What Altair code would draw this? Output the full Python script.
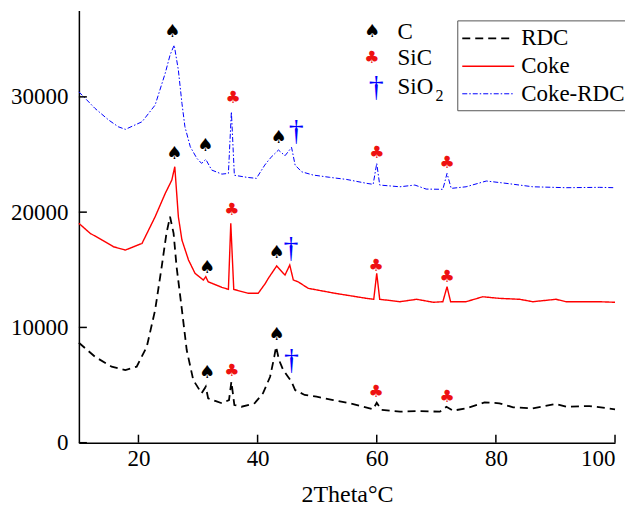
import altair as alt
import pandas as pd

# ---- data ----
rdc_x = [10, 12.7, 15.5, 17.8, 19.7, 21.4, 22.8, 23.9, 24.7, 25.3, 25.9, 26.4, 27.3, 28.1, 29.2, 30.6,
         31.3, 31.7, 33.0, 34.0, 35.2, 35.6, 36.1, 37.3, 39.5, 40.9, 42.1, 42.8, 43.1, 43.6, 44.3, 45.1,
         45.7, 46.3, 47.9, 49.9, 52.7, 55.5, 59.4, 60.0, 60.8, 63.9, 66.7, 70.6, 71.7, 72.8, 75.0, 78.1,
         80.6, 82.9, 86.2, 90.1, 91.8, 95.7, 100]
rdc_y = [8670, 7460, 6590, 6300, 6590, 8330, 11510, 15260, 18160, 19600, 18160, 15260, 11510, 8040, 5440, 4280,
         4860, 3850, 3600, 3420, 3700, 5290, 3270, 3120, 3420, 4280, 5720, 7460, 8330, 7170, 6300, 5720,
         5290, 4570, 4140, 3990, 3700, 3420, 2900, 3470, 2840, 2690, 2750, 2690, 3120, 2780, 2980, 3500,
         3420, 3070, 2980, 3360, 3120, 3180, 2900]

coke_x = [10, 11.9, 13.9, 15.8, 17.8, 20.6, 22.8, 24.5, 25.6, 26.1, 26.7, 27.3, 28.4, 29.5, 30.9, 31.3, 31.7, 34.0,
          35.1, 35.5, 36.0, 38.4, 40.1, 41.3, 41.8, 43.2, 44.6, 45.4, 46.0, 46.8, 48.5, 53.0, 58.3, 59.5,
          60.0, 60.5, 63.9, 66.7, 69.5, 71.1, 71.8, 72.4, 75.0, 77.8, 80.6, 84.0, 86.2, 90.1, 91.8, 97.4, 100]
coke_y = [19030, 18160, 17580, 17000, 16710, 17290, 19600, 21630, 22780, 23940, 19600, 17580, 15850, 14690, 14110, 14400, 13960, 13480,
          13300, 19030, 13300, 12960, 12960, 13820, 14260, 15330, 14540, 15410, 14110, 13960, 13390, 12960, 12520, 12440,
          14690, 12440, 12230, 12440, 12180, 12230, 13530, 12230, 12230, 12660, 12520, 12440, 12230, 12440, 12230, 12230, 12180]

mix_x = [10, 12.7, 15.0, 16.6, 17.8, 20.6, 22.8, 24.5, 25.3, 26.0, 26.7, 27.3, 27.8, 28.7, 29.8, 30.6, 31.3, 32.3,
         34.0, 35.1, 35.6, 36.1, 38.2, 39.8, 41.2, 42.1, 43.5, 44.6, 45.7, 46.3, 47.4, 49.3, 52.1, 54.9,
         58.3, 59.4, 60.0, 60.5, 63.9, 66.4, 68.3, 71.1, 71.8, 72.5, 75.0, 78.4, 81.7, 86.2, 91.8, 97.4, 100]
mix_y = [30440, 29000, 27990, 27410, 27180, 27840, 29290, 32060, 33620, 34490, 32320, 29440, 27410, 25670, 24670, 24230, 24580, 23650,
         23300, 23360, 28710, 23200, 23020, 22930, 24080, 24670, 25390, 24890, 25620, 24080, 23500, 23220, 23020, 22840,
         22500, 22410, 24230, 22350, 22200, 22350, 22000, 21980, 23360, 22060, 22200, 22700, 22500, 22200, 22120, 22150, 22120]

series_names = ["RDC", "Coke", "Coke-RDC"]
series_colors = ["black", "red", "blue"]
series_dash = [[8, 5], [1, 0], [5, 2, 1.5, 2]]
series_width = [1.8, 1.0, 1.5]

# peak markers (last entry of each list is the phase-key symbol)
spade_x = [25.7, 31.2, 43.5, 26.0, 31.5, 43.2, 31.5, 43.2, 59.2]
spade_y = [35590, 25730, 26450, 25040, 15120, 16430, 6020, 9340, 35620]
club_x = [35.9, 60.0, 71.8, 35.7, 59.9, 71.8, 35.7, 59.9, 71.8, 59.2]
club_y = [29870, 25150, 24280, 20180, 15330, 14340, 6240, 4420, 3990, 33360]
dagger_x = [46.5, 45.6, 45.7, 59.9]
dagger_y = [27030, 16860, 7170, 30850]

# phase key labels
key_y = [35620, 33360, 30850]
key_label = ["C", "SiC", "SiO"]
key_label_x = [63.5, 63.5, 63.5]

x_ticks = [20, 40, 60, 80, 100]
y_ticks = [0, 10000, 20000, 30000]

W, H = 537, 433
FONT = "Liberation Serif"

rows = []
for name, xs_, ys_ in [("RDC", rdc_x, rdc_y), ("Coke", coke_x, coke_y), ("Coke-RDC", mix_x, mix_y)]:
    for a, b in zip(xs_, ys_):
        rows.append({"x": a, "y": b, "s": name})
df = pd.DataFrame(rows)

xs = alt.Scale(domain=[10, 100], nice=False)
ys = alt.Scale(domain=[0, 37500], nice=False)

lines = alt.Chart(df).mark_line().encode(
    x=alt.X("x:Q", scale=xs,
            axis=alt.Axis(values=x_ticks, title="2Theta\u00b0C", titleFontSize=24, titleFont=FONT,
                          titleFontWeight="normal", titlePadding=12)),
    y=alt.Y("y:Q", scale=ys,
            axis=alt.Axis(values=y_ticks, title=None, format="d", labelPadding=11)),
    color=alt.Color("s:N", scale=alt.Scale(domain=series_names, range=series_colors),
                    legend=alt.Legend(title=None, orient="none", legendX=379, legendY=10,
                                      symbolType="M-2,0H2", symbolSize=676,
                                      labelFont=FONT, labelFontSize=23, labelColor="black",
                                      strokeColor="#555", padding=4, symbolOffset=13,
                                      labelOffset=19, rowPadding=2, fillColor="white")),
    strokeDash=alt.StrokeDash("s:N", scale=alt.Scale(domain=series_names, range=series_dash), legend=None),
    strokeWidth=alt.StrokeWidth("s:N", scale=alt.Scale(domain=series_names, range=series_width), legend=None),
    detail="s:N",
)

sp = pd.DataFrame({"x": spade_x, "y": spade_y})
cl = pd.DataFrame({"x": club_x, "y": club_y})
dg = pd.DataFrame({"x": dagger_x, "y": dagger_y})

spades = alt.Chart(sp).mark_text(
    text="\u2660", font="DejaVu Sans", fontSize=18, color="black", baseline="middle").encode(
    x=alt.X("x:Q", scale=xs), y=alt.Y("y:Q", scale=ys))
clubs = alt.Chart(cl).mark_text(
    text="\u2663", font="DejaVu Sans", fontSize=17, color="#ee1111", baseline="middle").encode(
    x=alt.X("x:Q", scale=xs), y=alt.Y("y:Q", scale=ys))
daggers = alt.Chart(dg).mark_text(
    text="\u2020", font=FONT, fontSize=30, color="blue", baseline="middle").encode(
    x=alt.X("x:Q", scale=xs), y=alt.Y("y:Q", scale=ys))

key = pd.DataFrame({"y": key_y, "lab": key_label, "lx": key_label_x})
key_labs = alt.Chart(key).mark_text(baseline="middle", align="left", font=FONT, fontSize=23,
                                    color="black").encode(
    x=alt.X("lx:Q", scale=xs), y=alt.Y("y:Q", scale=ys), text="lab:N")
sub2 = alt.Chart(key).transform_filter("datum.lab == 'SiO'").mark_text(
    text="2", baseline="middle", align="left", font=FONT, fontSize=16, color="black",
    dx=38, dy=9).encode(x=alt.X("lx:Q", scale=xs), y=alt.Y("y:Q", scale=ys))

xt = alt.Chart(pd.DataFrame({"v": x_ticks})).mark_rule(color="black", strokeWidth=1.5).encode(
    x=alt.X("v:Q", scale=xs), y=alt.value(H), y2=alt.value(H - 8))
yt = alt.Chart(pd.DataFrame({"v": y_ticks})).mark_rule(color="black", strokeWidth=1.5).encode(
    y=alt.Y("v:Q", scale=ys), x=alt.value(0), x2=alt.value(8))

chart = alt.layer(lines, spades, clubs, daggers, key_labs, sub2, xt, yt).properties(
    width=W, height=H,
    autosize=alt.AutoSizeParams(type="none"),
    padding={"left": 71, "top": 2, "right": 10, "bottom": 66},
).configure_view(stroke=None).configure_axis(
    grid=False, domainColor="black", domainWidth=1.5, tickSize=0,
    labelFont=FONT, labelFontSize=23, labelColor="black", titleColor="black",
).configure_axisX(labelPadding=5)

chart.save("out.html", embed_options={"renderer": "svg", "actions": False})
